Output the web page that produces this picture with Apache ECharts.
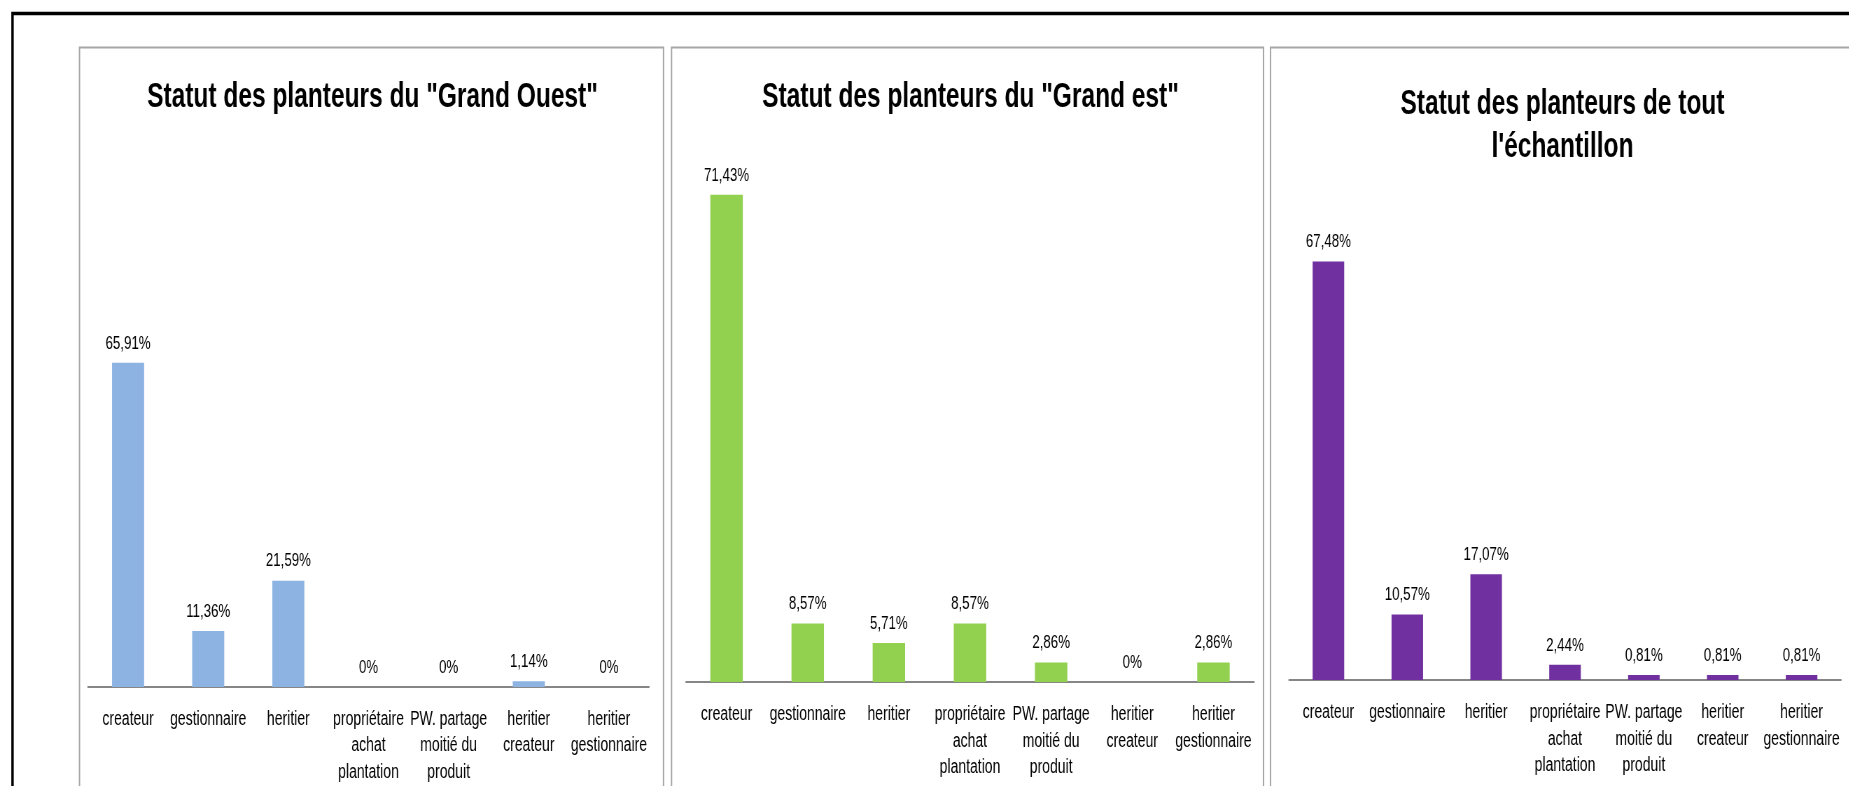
<!DOCTYPE html>
<html>
<head>
<meta charset="utf-8">
<title>Statut des planteurs</title>
<script src="https://cdn.jsdelivr.net/npm/echarts@6/dist/echarts.min.js"></script>
<style>
  html, body { margin: 0; padding: 0; background: #ffffff; overflow: hidden; }
  #wrap { width: 1849px; height: 786px; overflow: hidden; position: relative; }
  /* the chart is drawn wide and squeezed horizontally, giving tall condensed lettering */
  #chart { position: absolute; left: 0; top: 0; height: 786px; transform-origin: 0 0; }
</style>
</head>
<body>
<div id="wrap"><div id="chart"></div></div>
<script>
// Catégories communes aux trois graphiques
const categories = [
  'createur',
  'gestionnaire',
  'heritier',
  'propriétaire\nachat\nplantation',
  'PW. partage\nmoitié du\nproduit',
  'heritier\ncreateur',
  'heritier\ngestionnaire'
];

// Pourcentages par zone
const grandOuest = [65.91, 11.36, 21.59, 0, 0, 1.14, 0];
const grandEst = [71.43, 8.57, 5.71, 8.57, 2.86, 0, 2.86];
const echantillon = [67.48, 10.57, 17.07, 2.44, 0.81, 0.81, 0.81];

const titles = [
  'Statut des planteurs du "Grand Ouest"',
  'Statut des planteurs du "Grand est"',
  'Statut des planteurs de tout\nl\'échantillon'
];

const FONT = "'Liberation Sans', Arial, sans-serif";

// horizontal squeeze applied to the whole drawing
const SX = 0.7;
const W = 1849, H = 786;
const X = v => v / SX;   // screen x -> drawing x

// Mise en page des trois cadres : cadre, zone de tracé, couleur
const panels = [
  { frame: [79, 47, 584, 760], grid: { left: 88, width: 561, top: 293.6, height: 394.4 },
    titleX: 369, titleTop: 73, color: '#8DB3E2', data: grandOuest },
  { frame: [671, 47, 592, 760], grid: { left: 686, width: 568, top: 136.4, height: 545.6 },
    titleX: 967, titleTop: 73, color: '#92D050', data: grandEst },
  { frame: [1270, 47, 620, 760], grid: { left: 1289, width: 552, top: 184, height: 496 },
    titleX: 1559, titleTop: 78, color: '#7030A0', data: echantillon }
];

function fmtPct(v) {
  return v === 0 ? '0%' : v.toFixed(2).replace('.', ',') + '%';
}

const el = document.getElementById('chart');
el.style.width = X(W) + 'px';
el.style.transform = 'scaleX(' + SX + ')';

const chart = echarts.init(el, null, { renderer: 'canvas', width: X(W), height: H });

const option = {
  animation: false,
  backgroundColor: '#ffffff',
  textStyle: { fontFamily: FONT },
  graphic: [
    // cadre noir extérieur
    { type: 'rect', shape: { x: X(12.5), y: 13.5, width: X(1900), height: 900 },
      style: { fill: 'none', stroke: '#000000', lineWidth: 3.5 }, z: 0 }
  ].concat(panels.map(p => ({
    type: 'rect',
    shape: { x: X(p.frame[0] + 0.5), y: p.frame[1] + 0.5, width: X(p.frame[2]), height: p.frame[3] },
    style: { fill: 'none', stroke: '#a6a6a6', lineWidth: 2 },
    z: 0
  }))),
  title: panels.map((p, i) => ({
    text: titles[i],
    left: X(p.titleX),
    top: p.titleTop,
    textAlign: 'center',
    textStyle: {
      fontFamily: FONT,
      fontSize: 35,
      fontWeight: 'bold',
      color: '#000000',
      lineHeight: i === 2 ? 43 : 38
    }
  })),
  grid: panels.map(p => ({
    left: X(p.grid.left),
    width: X(p.grid.width),
    top: p.grid.top,
    height: p.grid.height,
    containLabel: false
  })),
  xAxis: panels.map((p, i) => ({
    type: 'category',
    gridIndex: i,
    data: categories,
    axisLine: { show: true, lineStyle: { color: '#868686', width: 2 } },
    axisTick: { show: false },
    axisLabel: {
      interval: 0,
      hideOverlap: false,
      margin: 19,
      fontFamily: FONT,
      fontSize: 20,
      lineHeight: 26.7,
      color: '#000000'
    }
  })),
  yAxis: panels.map((p, i) => ({
    type: 'value',
    gridIndex: i,
    min: 0,
    max: 80,
    show: false,
    splitLine: { show: false }
  })),
  series: panels.map((p, i) => ({
    type: 'bar',
    xAxisIndex: i,
    yAxisIndex: i,
    data: p.data,
    barCategoryGap: '60%',
    itemStyle: { color: p.color },
    label: {
      show: true,
      position: 'top',
      distance: 10,
      fontFamily: FONT,
      fontSize: 19,
      color: '#000000',
      formatter: params => fmtPct(params.value)
    }
  }))
};

chart.setOption(option);
</script>
</body>
</html>
